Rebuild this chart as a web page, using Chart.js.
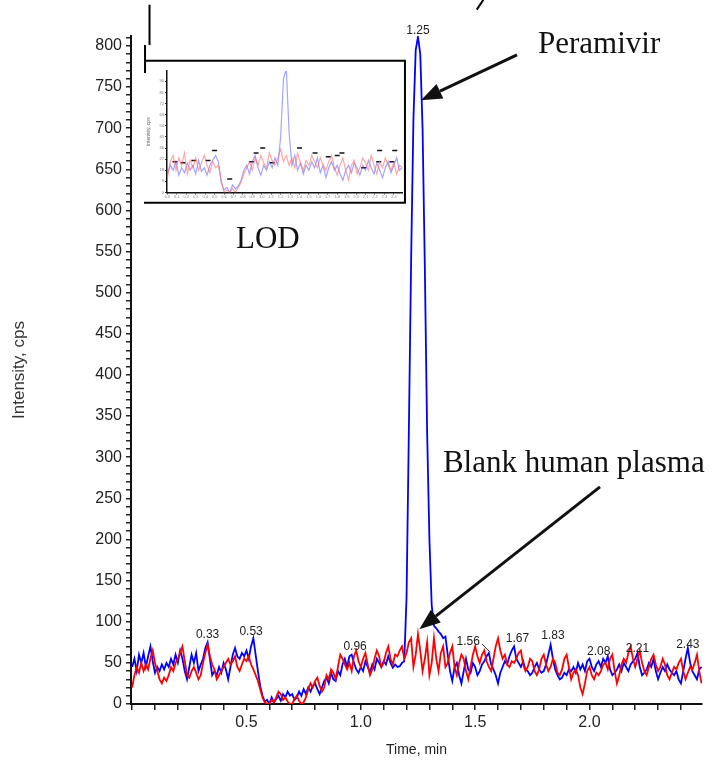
<!DOCTYPE html>
<html>
<head>
<meta charset="utf-8">
<script src="https://cdn.jsdelivr.net/npm/chart.js@4.4.0/dist/chart.umd.min.js"></script>
<style>
  body { margin: 0; background: #fff; }
  #wrap { position: relative; width: 720px; height: 763px; overflow: hidden; }
  #mainChart { position: absolute; left: 0; top: 0; }
  #lodChart { position: absolute; left: 140px; top: 62px; }
</style>
</head>
<body>
<div id="wrap">
  <canvas id="mainChart" width="720" height="763"></canvas>
  <canvas id="lodChart" width="268" height="140"></canvas>
</div>
<script>
// ---- main chromatogram, one reading every 0.01 min from 0.00 to 2.49 ----
const TIME_STEP = 0.01;

const peramivirCps = [
  45, 55, 40, 60, 50, 62, 45, 58, 70, 52,
  38, 45, 40, 48, 42, 50, 45, 55, 48, 60,
  50, 65, 55, 40, 30, 45, 60, 50, 62, 40,
  48, 55, 68, 75, 55, 35, 40, 35, 45, 38,
  50, 42, 30, 45, 60, 68, 58, 55, 62, 58,
  65, 55, 70, 80, 60, 40, 22, 10, 3, 5,
  0, 8, 2, 6, 10, 4, 12, 8, 15, 10,
  12, 5, 8, 15, 10, 18, 12, 20, 15, 22,
  25, 18, 12, 20, 28, 32, 25, 38, 30, 28,
  40, 35, 48, 55, 45, 58, 60, 50, 42, 38,
  45, 40, 52, 45, 38, 48, 42, 55, 50, 45,
  52, 48, 58, 50, 44, 48, 45, 46, 50, 52,
  130, 330, 540, 710, 795, 811, 790, 700, 530, 330,
  200, 120, 95, 92, 88, 85, 80, 82, 60, 40,
  28, 45, 50, 35, 25, 40, 55, 42, 38, 50,
  45, 35, 40, 48, 52, 58, 62, 48, 42, 35,
  25, 38, 45, 52, 48, 58, 65, 70, 55, 50,
  45, 52, 42, 40, 35, 38, 45, 50, 42, 38,
  40, 48, 60, 72, 55, 42, 35, 30, 32, 38,
  35, 42, 40, 45, 38, 50, 42, 48, 40, 52,
  55, 45, 40, 48, 52, 45, 55, 50, 58, 42,
  35, 38, 42, 48, 40, 50, 45, 40, 48, 52,
  55, 62, 45, 35, 38, 42, 50, 45, 55, 40,
  30, 38, 45, 40, 48, 42, 38, 35, 40, 30,
  25, 40, 55, 68, 50, 40, 35, 30, 42, 45
];

const blankPlasmaCps = [
  20, 35, 45, 38, 50, 40, 48, 42, 55, 65,
  50, 40, 30, 25, 32, 28, 35, 45, 40, 50,
  55, 62, 70, 52, 35, 32, 40, 45, 38, 30,
  35, 50, 62, 72, 58, 48, 42, 30, 35, 40,
  45, 50, 55, 48, 52, 58, 45, 40, 48, 55,
  52, 58, 48, 42, 35, 28, 18, 8, 2, 0,
  0, 5, 2, 8, 15, 12, 5, 8, 3, 0,
  0, 6, 10, 4, 0, 2, 8, 18, 25, 20,
  28, 32, 22, 15, 20, 35, 30, 42, 38, 30,
  45, 60, 55, 48, 42, 50, 40, 58, 65, 52,
  45, 55, 62, 48, 35, 42, 55, 65, 58, 45,
  50, 62, 70, 55, 48, 60, 58, 65, 70, 55,
  62, 75, 80, 45, 60, 85, 65, 40, 55, 75,
  35, 50, 80, 55, 40, 62, 70, 45, 50, 62,
  70, 45, 35, 50, 60, 55, 40, 30, 45, 60,
  70, 58, 50, 60, 65, 52, 45, 40, 55, 70,
  80, 65, 55, 60, 48, 45, 52, 50, 55, 62,
  65, 48, 40, 45, 55, 52, 40, 35, 42, 55,
  60, 48, 40, 45, 55, 50, 38, 35, 42, 55,
  60, 45, 30, 38, 42, 35, 20, 12, 25, 40,
  45, 35, 30, 38, 35, 40, 48, 50, 42, 55,
  60, 40, 25, 35, 48, 55, 50, 62, 70, 55,
  45, 55, 65, 50, 40, 35, 45, 55, 60, 48,
  40, 45, 55, 48, 35, 30, 38, 45, 42, 50,
  55, 40, 30, 38, 45, 42, 50, 60, 40, 25
];

// retention-time labels printed above peaks (text, x in min, baseline level in cps)
const peakLabelText = ['0.33', '0.53', '0.96', '1.25', '1.56', '1.67', '1.83', '2.08', '2.21', '2.43'];
const peakLabelTime = [0.33, 0.52, 0.975, 1.25, 1.47, 1.685, 1.84, 2.04, 2.21, 2.43];
const peakLabelLevel = [80, 84, 66, 815, 72, 75, 79, 60, 63, 68];

// ---- LOD inset chromatogram, one reading every 0.03 min ----
const LOD_STEP = 0.03;
const lodPeramivir = [
  15, 22, 18, 25, 14, 20, 16, 24, 18, 22,
  15, 26, 17, 20, 14, 22, 26, 30, 25, 8,
  2, 4, 0, 6, 3, 5, 10, 18, 22, 15,
  25, 30, 20, 14, 22, 18, 25, 20, 28, 22,
  45, 92, 100, 48, 22, 30, 18, 24, 15, 22,
  18, 25, 20, 28, 16, 22, 12, 20, 25, 18,
  22, 15, 10, 18, 22, 16, 24, 20, 14, 22,
  18, 26, 20, 15, 24, 18, 12, 20, 25, 16,
  22, 28, 18, 20
];
const lodBlank = [
  12, 25, 30, 18, 28, 22, 32, 15, 26, 20,
  28, 18, 24, 30, 22, 16, 25, 20, 22, 10,
  0, 2, 0, 3, 0, 4, 8, 15, 20, 25,
  18, 28, 22, 30, 24, 20, 32, 26, 22, 28,
  35, 25, 30, 22, 28, 20, 32, 24, 18, 26,
  22, 30, 25, 20, 28, 22, 18, 25, 30, 20,
  14, 22, 28, 18, 10, 22, 26, 15, 20, 28,
  24, 18, 30, 22, 15, 25, 20, 28, 22, 18,
  24, 15, 22, 20
];
const lodMarkTime = [0.08, 0.165, 0.28, 0.43, 0.50, 0.66, 0.89, 0.94, 1.01, 1.11, 1.24, 1.40, 1.565, 1.705, 1.80, 1.85, 2.08, 2.24, 2.25, 2.38, 2.41];
const lodMarkLevel = [25, 24, 26, 26, 34, 11, 25, 32, 36, 24, 102, 36, 32, 29, 30, 32, 20, 25, 34, 25, 34];

// ---- annotations, placed in data units (min, cps) ----
const noteText = ['Peramivir', 'Blank human plasma', 'LOD'];
const noteTime = [1.775, 1.359, 0.454];
const noteLevel = [791, 282, 554];
const arrowFrom = [[1.683, 789], [2.046, 264]];
const arrowTo = [[1.263, 734], [1.256, 91]];

const SANS = '"Liberation Sans", Arial, sans-serif';
const SERIF = '"Liberation Serif", "Times New Roman", serif';

const times = peramivirCps.map((_, i) => +(i * TIME_STEP).toFixed(2));
const lodTimes = lodPeramivir.map((_, i) => +(i * LOD_STEP).toFixed(2));

function drawArrow(ctx, x1, y1, x2, y2) {
    const ang = Math.atan2(y2 - y1, x2 - x1);
    const headLen = 21, headHalf = 8;
    const bx = x2 - headLen * Math.cos(ang), by = y2 - headLen * Math.sin(ang);
    ctx.beginPath();
    ctx.moveTo(x1, y1);
    ctx.lineTo(bx, by);
    ctx.stroke();
    ctx.beginPath();
    ctx.moveTo(x2, y2);
    ctx.lineTo(bx + headHalf * Math.sin(ang), by - headHalf * Math.cos(ang));
    ctx.lineTo(bx - headHalf * Math.sin(ang), by + headHalf * Math.cos(ang));
    ctx.closePath();
    ctx.fill();
}

const overlayPlugin = {
    id: 'overlay',
    afterDraw(chart) {
        const { ctx, scales: { x, y } } = chart;
        const px = t => x.getPixelForValue(t);
        const py = v => y.getPixelForValue(v);
        ctx.save();

        // peak labels
        ctx.font = '12px ' + SANS;
        ctx.fillStyle = '#222';
        ctx.textAlign = 'center';
        ctx.textBaseline = 'alphabetic';
        peakLabelText.forEach((txt, i) => ctx.fillText(txt, px(peakLabelTime[i]), py(peakLabelLevel[i])));
        // leader from 1.56 label to its peak
        ctx.strokeStyle = '#333';
        ctx.lineWidth = 1;
        ctx.beginPath();
        ctx.moveTo(px(1.53), py(73));
        ctx.lineTo(px(1.565), py(63));
        ctx.stroke();

        // inset frame
        ctx.strokeStyle = '#000';
        ctx.lineWidth = 2;
        const L = px(0.0564), R = px(1.193), T = py(782), B = py(609.4);
        ctx.beginPath();
        ctx.moveTo(L, T); ctx.lineTo(R, T); ctx.lineTo(R, B); ctx.lineTo(L - 1, B);
        ctx.moveTo(L, py(801)); ctx.lineTo(L, py(767));
        ctx.moveTo(px(0.076), py(850)); ctx.lineTo(px(0.076), py(801));
        ctx.moveTo(px(1.507), py(844)); ctx.lineTo(px(1.536), py(856));
        ctx.stroke();

        // text notes
        ctx.font = '31px ' + SERIF;
        ctx.fillStyle = '#111';
        ctx.textAlign = 'left';
        noteText.forEach((txt, i) => ctx.fillText(txt, px(noteTime[i]), py(noteLevel[i])));

        // arrows
        ctx.strokeStyle = '#111';
        ctx.fillStyle = '#111';
        ctx.lineWidth = 3;
        arrowFrom.forEach((f, i) => drawArrow(ctx, px(f[0]), py(f[1]), px(arrowTo[i][0]), py(arrowTo[i][1])));
        ctx.restore();
    }
};

new Chart(document.getElementById('mainChart'), {
    type: 'line',
    data: {
        datasets: [
            {
                label: 'Blank human plasma',
                data: times.map((t, i) => ({ x: t, y: blankPlasmaCps[i] })),
                borderColor: '#ff0000',
                borderWidth: 1.8,
                pointRadius: 0,
                tension: 0
            },
            {
                label: 'Peramivir',
                data: times.map((t, i) => ({ x: t, y: peramivirCps[i] })),
                borderColor: '#0000ff',
                borderWidth: 1.8,
                pointRadius: 0,
                tension: 0
            }
        ]
    },
    options: {
        responsive: false,
        animation: false,
        devicePixelRatio: 1,
        layout: { padding: { top: 36, right: 18, left: 0, bottom: 0 } },
        plugins: { legend: { display: false }, tooltip: { enabled: false } },
        scales: {
            x: {
                type: 'linear',
                min: -0.005,
                max: 2.492,
                afterFit: s => { s.height = 59; },
                border: { color: '#111', width: 2 },
                grid: { drawOnChartArea: false, color: '#222', tickLength: 6, lineWidth: 1.5 },
                ticks: {
                    stepSize: 0.1,
                    autoSkip: false,
                    maxRotation: 0,
                    includeBounds: false,
                    padding: 3,
                    color: '#222',
                    font: { family: SANS, size: 16 },
                    callback: v => (v > 0.2 && Math.abs(v * 2 - Math.round(v * 2)) < 1e-6) ? v.toFixed(1) : ''
                },
                title: { display: true, text: 'Time, min', color: '#222', font: { family: SANS, size: 14 }, padding: { top: 0, bottom: 4 } }
            },
            y: {
                min: 0,
                max: 812,
                afterFit: s => { s.width = 131; },
                border: { color: '#111', width: 2 },
                grid: { drawOnChartArea: false, color: '#222', tickLength: 5, lineWidth: 1.5 },
                ticks: {
                    stepSize: 10,
                    autoSkip: false,
                    includeBounds: false,
                    padding: 4,
                    color: '#222',
                    font: { family: SANS, size: 16 },
                    callback: v => (Math.round(v) % 50 === 0) ? String(Math.round(v)) : ''
                },
                title: { display: true, text: 'Intensity, cps', color: '#333', font: { family: SANS, size: 17 }, padding: { top: 9, bottom: 0 } }
            }
        }
    },
    plugins: [overlayPlugin]
});

// LOD inset
new Chart(document.getElementById('lodChart'), {
    type: 'line',
    data: {
        datasets: [
            {
                data: lodTimes.map((t, i) => ({ x: t, y: lodBlank[i] })),
                borderColor: 'rgba(255, 110, 110, 0.6)',
                borderWidth: 1.2,
                pointRadius: 0
            },
            {
                data: lodTimes.map((t, i) => ({ x: t, y: lodPeramivir[i] })),
                borderColor: 'rgba(90, 90, 255, 0.55)',
                borderWidth: 1.2,
                pointRadius: 0
            },
            {
                data: lodMarkTime.map((t, i) => ({ x: t, y: lodMarkLevel[i] })),
                showLine: false,
                pointStyle: 'line',
                pointRadius: 2.5,
                borderColor: '#111',
                borderWidth: 1.5
            }
        ]
    },
    options: {
        responsive: false,
        animation: false,
        devicePixelRatio: 1,
        layout: { padding: { top: 9, right: 4, left: 0, bottom: 0 } },
        plugins: { legend: { display: false }, tooltip: { enabled: false } },
        scales: {
            x: {
                type: 'linear',
                min: -0.005,
                max: 2.492,
                afterFit: s => { s.height = 9.5; },
                border: { color: '#111', width: 1.5 },
                grid: { drawOnChartArea: false, color: '#333', tickLength: 2 },
                ticks: {
                    stepSize: 0.1, autoSkip: false, maxRotation: 0, includeBounds: false, padding: 0,
                    color: '#888', font: { family: SANS, size: 4 },
                    callback: v => v.toFixed(1)
                }
            },
            y: {
                min: 0,
                max: 98.4,
                afterFit: s => { s.width = 27; },
                border: { color: '#111', width: 1.5 },
                grid: { drawOnChartArea: false, color: '#333', tickLength: 2 },
                ticks: {
                    stepSize: 9, autoSkip: false, includeBounds: false, padding: 1,
                    color: '#777', font: { family: SANS, size: 4 },
                    callback: v => String(Math.round(v))
                },
                title: { display: true, text: 'Intensity, cps', color: '#666', font: { family: SANS, size: 5 }, padding: { top: 6, bottom: 0 } }
            }
        }
    }
});
</script>
</body>
</html>
